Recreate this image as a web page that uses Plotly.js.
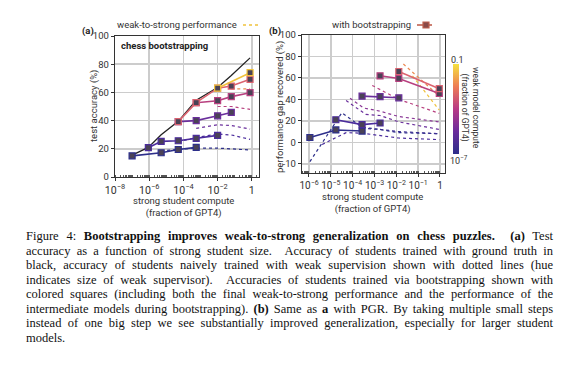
<!DOCTYPE html>
<html>
<head>
<meta charset="utf-8">
<script src="https://cdn.plot.ly/plotly-3.0.1.min.js"></script>
<style>
  html,body{margin:0;padding:0;background:#fff;}
  #wrap{position:relative;width:583px;height:371px;overflow:hidden;}
  #chart{position:absolute;left:0;top:0;width:583px;height:371px;}
  #caption{position:absolute;left:26px;top:229px;width:527px;font-family:"Liberation Serif","Times New Roman",serif;font-size:12.5px;line-height:14.5px;color:#111;}
  #caption div{text-align:justify;text-align-last:justify;white-space:nowrap;}
  #caption div.last{text-align-last:left;}
</style>
</head>
<body>
<div id="wrap">
<div id="chart"></div>
<div id="caption">
<div>Figure 4: <b>Bootstrapping improves weak-to-strong generalization on chess puzzles.</b> &nbsp;<b>(a)</b> Test</div>
<div>accuracy as a function of strong student size. &nbsp;Accuracy of students trained with ground truth in</div>
<div>black, accuracy of students naively trained with weak supervision shown with dotted lines (hue</div>
<div>indicates size of weak supervisor). &nbsp;Accuracies of students trained via bootstrapping shown with</div>
<div>colored squares (including both the final weak-to-strong performance and the performance of the</div>
<div>intermediate models during bootstrapping). <b>(b)</b> Same as <b>a</b> with PGR. By taking multiple small steps</div>
<div>instead of one big step we see substantially improved generalization, especially for larger student</div>
<div class="last">models.</div>
</div>
</div>
<script>
// ---------- DATA ----------
// panel (a): strong student compute (fraction of GPT4)
const modelsA = [1.0e-7, 8.9e-7, 5.0e-6, 5.0e-5, 5.6e-4, 1.0e-2, 6.3e-2, 0.79];
const groundTruthAcc = [15.5, 21, 30, 39.5, 54.5, 63.5, 72, 84.5];

// bootstrapping chains (indices into modelsA, test accuracy %)
const chain1Idx = [0, 2, 3, 4];       const chain1Acc = [15, 17.2, 19.5, 21];
const chain2Idx = [1, 2, 3, 4, 5];    const chain2Acc = [20.8, 25.3, 25.7, 27.4, 29.5];
const chain3Idx = [3, 4, 5, 6];       const chain3Acc = [39.3, 40, 43.4, 45.8];
const chain4Idx = [4, 5, 6, 7];       const chain4Acc = [52.7, 54.1, 57, 59.8];
const chain5Idx = [3, 4, 5, 6, 7];    const chain5Acc = [39.3, 52.7, 63, 64.5, 69.3];
const chain6Idx = [5, 7];             const chain6Acc = [63, 74];

// naive weak-to-strong (dotted) accuracy
const naive1Idx = [2, 3, 4, 5, 6, 7]; const naive1Acc = [18.5, 19.5, 20.5, 20.5, 20, 19.2];
const naive2Idx = [3, 4, 5, 6, 7];    const naive2Acc = [25, 28, 30.5, 29.8, 26.7];
const naive3Idx = [4, 5, 6, 7];       const naive3Acc = [34.5, 37, 36.5, 34];
const naive4Idx = [5, 6, 7];          const naive4Acc = [50, 50, 48];
const naive5Idx = [6, 7];             const naive5Acc = [62.5, 62.5];

// panel (b): strong student compute
const modelsB = [1.1e-6, 1.7e-5, 2.7e-4, 1.8e-3, 1.3e-2, 0.93];
const pgr1Idx = [0, 1, 2]; const pgr1 = [4.5, 11.5, 10.5];
const pgr2Idx = [1, 2, 3]; const pgr2 = [21, 16.5, 18];
const pgr3Idx = [2, 3, 4]; const pgr3 = [43, 42.5, 41.5];
const pgr4Idx = [3, 4, 5]; const pgr4 = [62, 59.5, 45.5];
const pgr5Idx = [4, 5];    const pgr5 = [66, 50];

// naive PGR (dotted)
const nb1X = [1.1e-6, 3.2e-5, 2.7e-4, 1.8e-3, 1.3e-2, 0.93]; const nb1Y = [-18, 27.5, 14, 12, 9, 8];
const nb2X = [4.0e-6, 5.0e-5, 2.7e-4, 1.8e-3, 1.3e-2, 0.93]; const nb2Y = [-2, 9, 8.5, 6.5, 4, 2.5];
const nb3X = [5.0e-5, 4.0e-4, 1.8e-3, 1.3e-2, 0.93];         const nb3Y = [39, 26, 25, 19, 12];
const nb4X = [2.7e-4, 1.8e-3, 1.3e-2, 0.93];                 const nb4Y = [13, 12, 10, 8];
const nb5X = [7.6e-5, 3.2e-4, 1.8e-3, 1.3e-2, 0.93];         const nb5Y = [41, 32, 29, 24, 19];
const nb6X = [7.9e-4, 3.9e-3, 1.3e-2, 0.93];                 const nb6Y = [53, 46, 40, 27];
const nb7X = [2.1e-2, 0.93];                                 const nb7Y = [73, 43];
const nb8X = [5.5e-2, 0.93];                                 const nb8Y = [62, 30];

const yTicksB = [-20, 0, 20, 40, 60, 80, 100];
const yTickTextB = ['-10', '0', '20', '40', '60', '80', '100'];

// ---------- STYLE ----------
const C = {navy:'#2d2f8a', indigo:'#4b2c9c', violet:'#6a2f9c', purple:'#8a3796', magenta:'#b8407f',
           pink:'#dc6470', orange:'#ec8a52', yellow:'#f0c23c'};
const FONT = 'Roboto, "Liberation Sans", Arial, sans-serif';
const W = 583, H = 371;
const PX = v => v / W, PY = v => 1 - v / H;

function pick(arr, idx){ return idx.map(i => arr[i]); }
function chain(x, y, color, xa, ya){
  return {x, y, xaxis:xa, yaxis:ya, mode:'lines+markers', type:'scatter', hoverinfo:'skip', showlegend:false,
    line:{color, width:1.6}, marker:{symbol:'square', size:6, color:'#4a4256', line:{color, width:1.2}}};
}
function dotted(x, y, color, xa, ya){
  return {x, y, xaxis:xa, yaxis:ya, mode:'lines', type:'scatter', hoverinfo:'skip', showlegend:false,
    line:{color, width:1.2, dash:'dot'}};
}

const traces = [
  dotted(pick(modelsA, naive1Idx), naive1Acc, C.navy, 'x', 'y'),
  dotted(pick(modelsA, naive2Idx), naive2Acc, C.indigo, 'x', 'y'),
  dotted(pick(modelsA, naive3Idx), naive3Acc, C.violet, 'x', 'y'),
  dotted(pick(modelsA, naive4Idx), naive4Acc, C.magenta, 'x', 'y'),
  dotted(pick(modelsA, naive5Idx), naive5Acc, C.orange, 'x', 'y'),
  {x:modelsA, y:groundTruthAcc, xaxis:'x', yaxis:'y', mode:'lines', type:'scatter', hoverinfo:'skip', showlegend:false,
   line:{color:'#222', width:1.3}},
  chain(pick(modelsA, chain1Idx), chain1Acc, C.navy, 'x', 'y'),
  chain(pick(modelsA, chain2Idx), chain2Acc, C.indigo, 'x', 'y'),
  chain(pick(modelsA, chain3Idx), chain3Acc, C.violet, 'x', 'y'),
  chain(pick(modelsA, chain4Idx), chain4Acc, C.magenta, 'x', 'y'),
  chain(pick(modelsA, chain5Idx), chain5Acc, C.pink, 'x', 'y'),
  chain(pick(modelsA, chain6Idx), chain6Acc, C.yellow, 'x', 'y'),

  dotted(nb1X, nb1Y, C.navy, 'x2', 'y2'),
  dotted(nb2X, nb2Y, C.indigo, 'x2', 'y2'),
  dotted(nb4X, nb4Y, '#3c2e92', 'x2', 'y2'),
  dotted(nb3X, nb3Y, C.violet, 'x2', 'y2'),
  dotted(nb5X, nb5Y, C.purple, 'x2', 'y2'),
  dotted(nb6X, nb6Y, C.magenta, 'x2', 'y2'),
  dotted(nb7X, nb7Y, C.orange, 'x2', 'y2'),
  dotted(nb8X, nb8Y, C.yellow, 'x2', 'y2'),
  chain(pick(modelsB, pgr1Idx), pgr1, C.navy, 'x2', 'y2'),
  chain(pick(modelsB, pgr2Idx), pgr2, C.indigo, 'x2', 'y2'),
  chain(pick(modelsB, pgr3Idx), pgr3, C.violet, 'x2', 'y2'),
  chain(pick(modelsB, pgr4Idx), pgr4, C.magenta, 'x2', 'y2'),
  chain(pick(modelsB, pgr5Idx), pgr5, C.pink, 'x2', 'y2'),

  // colour scale for weak model compute
  {x:[1e-7, 1e-7], y:[-50, -50], xaxis:'x', yaxis:'y', mode:'markers', type:'scatter', hoverinfo:'skip', showlegend:false,
   marker:{color:[-7, -1], cmin:-7, cmax:-1, size:1,
     colorscale:[[0,'#2d2f8a'],[0.25,'#6a2c9c'],[0.5,'#b83a86'],[0.75,'#ee7c55'],[1,'#f5e23f']],
     showscale:true,
     colorbar:{x:PX(453), xanchor:'left', y:PY(109), yanchor:'middle', len:90, lenmode:'pixels',
       thickness:6, thicknessmode:'pixels', showticklabels:false, ticks:'', outlinewidth:0, xpad:0, ypad:0}}}
];

const axisCommon = {
  showline:true, linecolor:'#333', linewidth:1.2, mirror:true, zeroline:false,
  showgrid:true, gridcolor:'#cccccc', gridwidth:1.5,
  ticks:'outside', ticklen:3, tickcolor:'#333', tickwidth:1, tickangle:0,
  tickfont:{family:FONT, size:9.5, color:'#333'}
};

function ann(text, x, y, extra){
  return Object.assign({text, x:PX(x), y:PY(y), xref:'paper', yref:'paper', xanchor:'center', yanchor:'middle',
    showarrow:false, font:{family:FONT, size:9.5, color:'#333'}}, extra || {});
}

const layout = {
  width:W, height:H, margin:{l:0, r:0, t:0, b:0}, paper_bgcolor:'#fff', plot_bgcolor:'#fff',
  font:{family:FONT, size:10, color:'#333'},
  showlegend:false,
  xaxis:Object.assign({}, axisCommon, {domain:[PX(115), PX(259)], type:'log', range:[-8, 0.42],
    dtick:2, tick0:0, exponentformat:'power', anchor:'y', tickfont:{family:FONT, size:8.5, color:'#333'},
    minor:{ticks:'inside', ticklen:2, tickcolor:'#555', dtick:'D1', showgrid:false}}),
  yaxis:Object.assign({}, axisCommon, {domain:[PY(177), PY(36)], range:[0, 100], dtick:20, anchor:'x'}),
  xaxis2:Object.assign({}, axisCommon, {domain:[PX(302), PX(445)], type:'log', range:[-6.32, 0.23],
    dtick:1, tick0:0, exponentformat:'power', anchor:'y2', tickfont:{family:FONT, size:8, color:'#333'},
    minor:{ticks:'inside', ticklen:2, tickcolor:'#555', dtick:'D1', showgrid:false}}),
  yaxis2:Object.assign({}, axisCommon, {domain:[PY(173), PY(35)], range:[-28.6, 100],
    tickmode:'array', tickvals:yTicksB, ticktext:yTickTextB, anchor:'x2'}),
  annotations:[
    ann('<b>(a)</b>', 88, 31, {font:{family:FONT, size:9.5, color:'#222'}}),
    ann('<b>(b)</b>', 275, 31, {font:{family:FONT, size:9.5, color:'#222'}}),
    ann('weak-to-strong performance', 239, 25, {xanchor:'right'}),
    ann('with bootstrapping', 413, 25, {xanchor:'right'}),
    ann('<b>chess bootstrapping</b>', 119, 45, {xanchor:'left', font:{family:FONT, size:9.5, color:'#222'}}),
    ann('test accuracy (%)', 94, 106, {textangle:-90}),
    ann('performance gap recovered (%)', 280, 107, {textangle:-90}),
    ann('strong student compute<br>(fraction of GPT4)', 183, 206.5),
    ann('strong student compute<br>(fraction of GPT4)', 372, 203),
    ann('0.1', 457, 60, {font:{family:FONT, size:9, color:'#333'}}),
    ann('10<sup>\u22127</sup>', 459, 160, {font:{family:FONT, size:9, color:'#333'}}),
    ann('weak model compute<br>(fraction of GPT4)', 470, 108, {textangle:90, font:{family:FONT, size:8.5, color:'#333'}})
  ],
  shapes:[
    {type:'line', xref:'paper', yref:'paper', x0:PX(243), x1:PX(258), y0:PY(25), y1:PY(25), line:{color:'#f0c23c', width:1.3, dash:'dot'}},
    {type:'line', xref:'paper', yref:'paper', x0:PX(417), x1:PX(432), y0:PY(25), y1:PY(25), line:{color:'#c0604e', width:1.6}},
    {type:'rect', xref:'paper', yref:'paper', x0:PX(423), x1:PX(429), y0:PY(28), y1:PY(22), fillcolor:'#8a4a48', line:{color:'#c0604e', width:1.2}}
  ]
};

Plotly.newPlot('chart', traces, layout, {staticPlot:true, displayModeBar:false});
</script>
</body>
</html>
